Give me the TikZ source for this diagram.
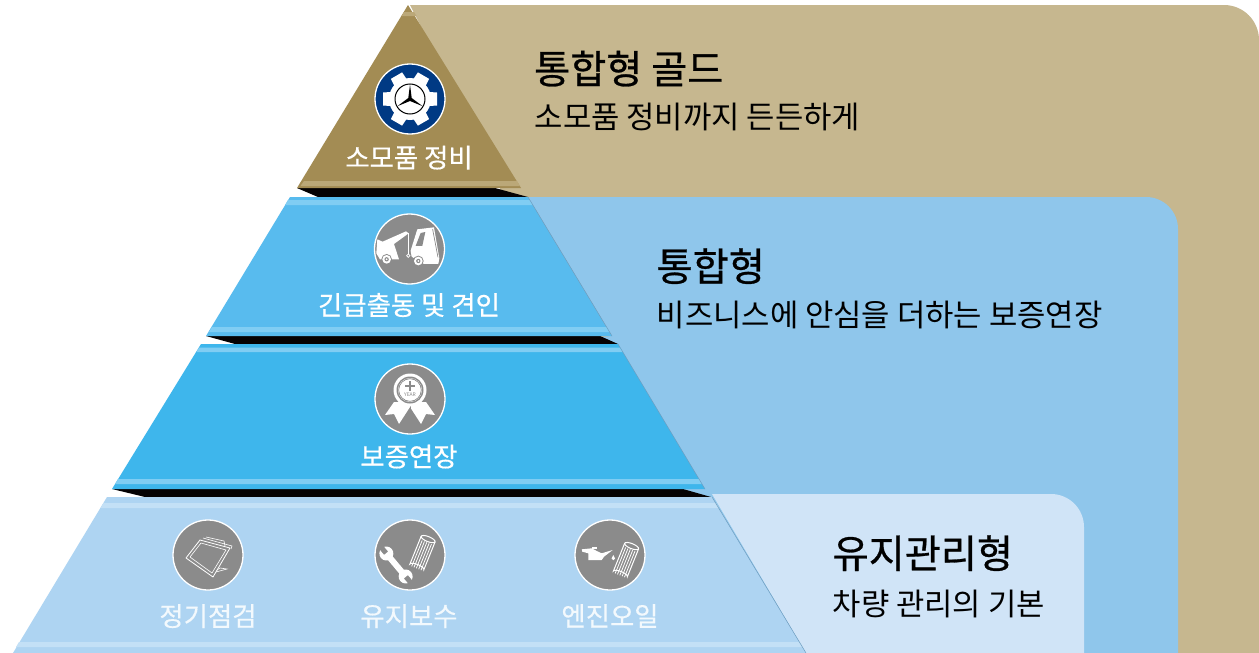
\documentclass[tikz,border=0pt]{standalone}
\usepackage{fontspec}
\setmainfont{Noto Sans CJK KR}
\newfontfamily\labelface[FakeBold=0.4]{Noto Sans CJK KR}
\newfontfamily\headface[FakeBold=0.7]{Noto Sans CJK KR}
\definecolor{goldpanel}{HTML}{C6B78F}
\definecolor{goldtier}{HTML}{A38C54}
\definecolor{goldstripe}{HTML}{BBA878}
\definecolor{bluepanel}{HTML}{8FC6EB}
\definecolor{bluetierA}{HTML}{58BBEE}
\definecolor{bluetierB}{HTML}{3EB6EC}
\definecolor{bluestripe}{HTML}{80CDF3}
\definecolor{lightpanel}{HTML}{D0E4F7}
\definecolor{lighttier}{HTML}{AED4F2}
\definecolor{lightstripe}{HTML}{C3E0F6}
\definecolor{badgegray}{HTML}{8B8B8B}
\definecolor{badgeblue}{HTML}{003A84}
\definecolor{shadowblack}{HTML}{050203}
\definecolor{edgeline}{HTML}{6F9DBF}
\tikzset{
  x=1pt,y=-1pt,
  badge/.style={circle,draw=white,line width=1.3pt,fill=badgegray,minimum size=70pt,inner sep=0pt},
  tierlabel/.style={text=white,font=\labelface\fontsize{26.4}{26.4}\selectfont,anchor=base,inner sep=0pt},
  softlabel/.style={text=white!85!lighttier,font=\labelface\fontsize{26.4}{26.4}\selectfont,anchor=base,inner sep=0pt},
  headline/.style={text=black,font=\headface\fontsize{39.2}{39.2}\selectfont,anchor=base west,inner sep=0pt},
  subline/.style={text=black,font=\fontsize{30.8}{30.8}\selectfont,anchor=base west,inner sep=0pt},
  whiteart/.style={fill=white,draw=none},
  wireart/.style={draw=white,line width=.8pt,fill=none},
}
% filter cartridge: centre x, y, rotation, half length
\newcommand{\filtercart}[4]{%
  \begin{scope}[shift={(#1,#2)},rotate=#3]
    \draw[white,line width=1pt,fill=badgegray] (-7.5,-#4) -- (-7.5,#4) arc[x radius=7.5,y radius=2.5,start angle=180,end angle=360] -- (7.5,-#4);
    \draw[white,line width=1pt,fill=badgegray] (0,-#4) ellipse[x radius=7.5,y radius=2.5];
    \foreach \u in {-5,-2.5,0,2.5,5}{\draw[white,line width=.8pt] (\u,-#4+3.5) -- (\u,#4+1.5);}
  \end{scope}}
\begin{document}
\begin{tikzpicture}
\useasboundingbox (0,0) rectangle (1259,653);
\fill[white] (0,0) rectangle (1259,653);
% back panels
\fill[goldpanel] (410,5) [rounded corners=35pt] -- (1259,5) [sharp corners] -- (1259,653) -- (500,653) -- (500,180) -- cycle;
\fill[bluepanel] (528,197) [rounded corners=32pt] -- (1178,197) [sharp corners] -- (1178,653) -- (500,653) -- (500,345) -- (612,336) -- cycle;
\fill[lightpanel] (712,494) [rounded corners=33pt] -- (1084,494) [sharp corners] -- (1084,653) -- (806,653) -- cycle;
% gold tier
\fill[shadowblack] (297,188) -- (318,197) -- (528,197) -- (495,188) -- cycle;
\fill[goldtier] (408,5) -- (521,188) -- (297,188) -- cycle;
\fill[goldstripe] (404,12) -- (414,12) -- (416.5,16) -- (401.5,16) -- cycle;
\fill[goldstripe] (304,181) -- (517,181) -- (520,186) -- (300.5,186) -- cycle;
% tier 2
\fill[shadowblack] (206,336) -- (235,344) -- (618,344) -- (600,336) -- cycle;
\fill[bluetierA] (290,197) -- (528,197) -- (612,336) -- (206,336) -- cycle;
\fill[bluestripe] (288,200) -- (530,200) -- (533,205) -- (285,205) -- cycle;
\fill[bluestripe] (212,327) -- (607,327) -- (610,332) -- (209,332) -- cycle;
\draw[edgeline,line width=.5pt] (528,197) -- (612,336);
% tier 3
\fill[shadowblack] (112,489) -- (145,497) -- (711,497) -- (683,489) -- cycle;
\fill[bluetierB] (201,344) -- (618,344) -- (705,489) -- (112,489) -- cycle;
\fill[bluestripe] (199,347.5) -- (620,347.5) -- (623,352) -- (196.5,352) -- cycle;
\fill[bluestripe] (118,479) -- (699,479) -- (702,484) -- (115,484) -- cycle;
\draw[edgeline,line width=.5pt] (618,344) -- (705,489);
% tier 4
\fill[lighttier] (107,497) -- (712,497) -- (806,653) -- (13,653) -- cycle;
\fill[lightstripe] (103.5,503) -- (716,503) -- (719,508) -- (100.5,508) -- cycle;
\fill[lightstripe] (19,642) -- (800,642) -- (803,647) -- (16,647) -- cycle;
\draw[edgeline,line width=.5pt] (712,497) -- (806,653);
% badges
\node[badge,fill=badgeblue] (partsbadge) at (410,99) {};
\node[badge] (towbadge) at (409.5,249) {};
\node[badge] (warrantybadge) at (410,399) {};
\node[badge] (inspectbadge) at (208,555) {};
\node[badge] (maintbadge) at (410,555) {};
\node[badge] (oilbadge) at (610,555) {};
% gear and star
\begin{scope}[shift={(410,99)}]
  \fill[white] (0,0) circle[radius=21];
  \foreach \a in {0,60,...,300}{\fill[white,rotate=\a] (12,-7.5) -- (27,-6.5) -- (27,6.5) -- (12,7.5) -- cycle;}
  \draw[black,line width=1pt] (0,0) circle[radius=15];
  \fill[black] (0,-14.5) -- (1.7,-1) -- (12.6,7.2) -- (0,2) -- (-12.6,7.2) -- (-1.7,-1) -- cycle;
\end{scope}
% tow truck
\begin{scope}[shift={(190,190)},x=.3333pt,y=-.3333pt]
  \fill[whiteart] (562,148) -- (578,155) -- (648,124) -- (656,130) -- (612,162) -- (627,208) -- (570,208) -- (559,190) -- cycle;
  \draw[white,line width=.8pt] (655,128) -- (655,192);
  \draw[white,line width=.7pt] (655,197) circle[radius=5];
  \fill[whiteart] (662,182) -- (682,118) -- (732,112) -- (748,205) -- (745,222) -- (702,222) -- (665,200) -- cycle;
  \fill[badgegray] (692,129) -- (706,126) -- (697,168) -- (677,168) -- cycle;
  \fill[badgegray] (727,118) -- (729,117) -- (745,202) -- (743,202) -- cycle;
  \foreach \cx/\cy in {590/208,685/213}{
    \fill[badgegray] (\cx,\cy) circle[radius=16];
    \fill[white] (\cx,\cy) circle[radius=13];
    \fill[badgegray] (\cx,\cy) circle[radius=6.5];
    \fill[white] (\cx,\cy) circle[radius=3];}
\end{scope}
% medal
\fill[whiteart] (394,402) -- (385,415) -- (394,414) -- (399,424) -- (410,407) -- (421,424) -- (426,414) -- (435,415) -- (426,402) -- cycle;
\draw[badgegray,line width=1pt] (410,405) -- (410,412);
\fill[white] (410,390) circle[radius=16.5];
\fill[badgegray] (410,390) circle[radius=13.5];
\fill[white] (410,390) circle[radius=12];
\draw[badgegray,line width=.7pt] (410,390) circle[radius=11.3];
\fill[badgegray] (408.6,381) rectangle (411.4,391);
\fill[badgegray] (405,384.6) rectangle (415,387.4);
\node[text=badgegray,font=\fontsize{5}{5}\selectfont,inner sep=0pt] (yearmark) at (410,395) {YEAR};
% tablet
\draw[wireart,line join=round] (200,540) -- (230,548) -- (213,577) -- (186,558) -- cycle;
\draw[wireart,line width=.6pt] (203,538) -- (232,546) -- (231,549);
\draw[wireart,line width=.6pt] (206,537) -- (224,541) -- (225,546);
\draw[wireart,line width=.6pt] (201,543) -- (226,550) -- (212,573) -- (190,557) -- cycle;
\draw[wireart,line width=.6pt] (216,572) -- (227,569) -- (220,568) -- (217,570);
% wrench
\begin{scope}[shift={(396,565)},rotate=-50]
  \fill[white] (-15,-3) rectangle (15,3);
  \fill[white] (-15,0) circle[radius=7];
  \fill[white] (15,0) circle[radius=7];
  \fill[badgegray] (-24,-2.5) rectangle (-15.5,2.5);
  \fill[badgegray] (15.5,-2.5) rectangle (24,2.5);
\end{scope}
\filtercart{422.5}{553}{-22}{15}
% oil can and filter
\fill[whiteart] (581.7,549.3) -- (591.7,548.3) -- (596.7,551) -- (601.7,553.3) -- (612.7,550) -- (604,556.7) -- (601.7,560) -- (588.3,560) -- (588.3,553.3) -- (582.3,551.7) -- cycle;
\fill[whiteart] (592,547) rectangle (597,549);
\fill[whiteart] (613.3,555) -- (615,558.5) arc[start angle=0,end angle=180,radius=1.7] -- cycle;
\filtercart{626}{560}{-22}{15}
% tier labels
\node[tierlabel] (partslabel) at (409,167.5) {소모품 정비};
\node[tierlabel] (towlabel) at (409,315) {긴급출동 및 견인};
\node[tierlabel] (warrantylabel) at (409,466.5) {보증연장};
\node[softlabel] (inspectlabel) at (208,626) {정기점검};
\node[softlabel] (maintlabel) at (409,626) {유지보수};
\node[softlabel] (oillabel) at (610,626) {엔진오일};
% headings
\node[headline] (goldhead) at (534,83.5) {통합형 골드};
\node[subline] (goldsub) at (534.5,128) {소모품 정비까지 든든하게};
\node[headline] (midhead) at (656.5,281) {통합형};
\node[subline] (midsub) at (656.5,326) {비즈니스에 안심을 더하는 보증연장};
\node[headline] (basehead) at (832.5,568) {유지관리형};
\node[subline] (basesub) at (832.5,615) {차량 관리의 기본};
\end{tikzpicture}
\end{document}
